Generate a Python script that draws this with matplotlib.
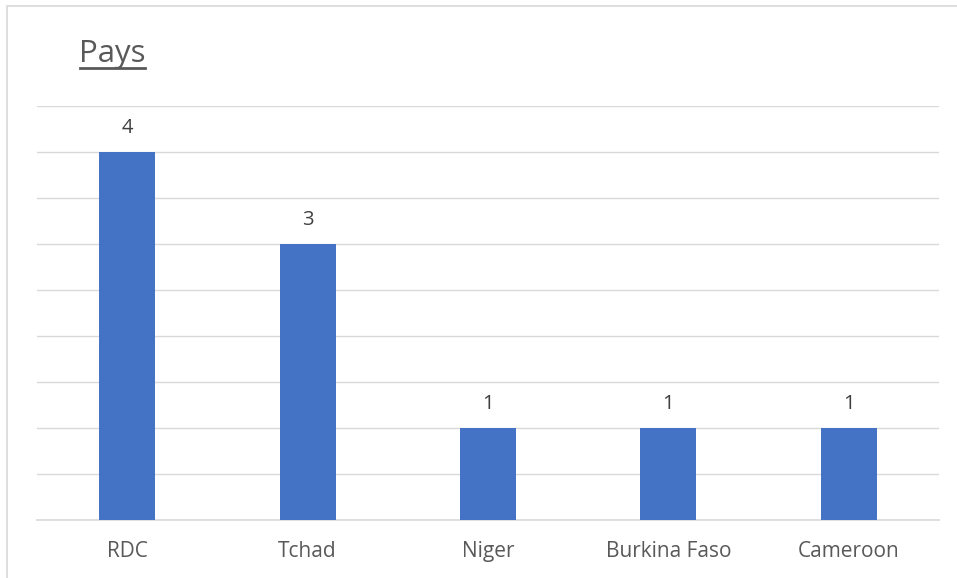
import matplotlib.pyplot as plt
from matplotlib.patches import Rectangle

# données
pays = ["RDC", "Tchad", "Niger", "Burkina Faso", "Cameroon"]
valeurs = [4, 3, 1, 1, 1]

W, H = 957, 578
fig = plt.figure(figsize=(W / 100, H / 100), dpi=100)
plt.rcParams["font.family"] = ["Open Sans", "DejaVu Sans"]

# cadre du graphique (gris clair, à gauche et en haut)
fig.patches.append(Rectangle((7 / W, -0.05), 1.1, 1 - 6 / H + 0.05,
                             transform=fig.transFigure, fill=False,
                             edgecolor="#d9d9d9", linewidth=1.2))

ax = fig.add_axes([37 / W, 1 - 520 / H, (939 - 37) / W, (520 - 106) / H])
x = range(len(pays))
bars = ax.bar(x, valeurs, width=0.31, color="#4472c4", zorder=3)

ax.set_ylim(0, 4.5)
ax.set_xlim(-0.5, len(pays) - 0.5)
ax.set_yticks([i * 0.5 for i in range(10)])
ax.yaxis.grid(True, color="#d9d9d9", linewidth=1)
ax.tick_params(axis="y", left=False, labelleft=False)
ax.tick_params(axis="x", length=0, pad=15, labelsize=15, labelcolor="#595959")
ax.set_xticks(list(x))
ax.set_xticklabels(pays)
for s in ["top", "right", "left"]:
    ax.spines[s].set_visible(False)
ax.spines["bottom"].set_color("#d9d9d9")
ax.spines["bottom"].set_linewidth(1.2)

# étiquettes de données
for i, v in enumerate(valeurs):
    ax.annotate(str(v), (i, v), xytext=(0, 17), textcoords="offset points",
                ha="center", va="center", fontsize=14.5, color="#404040")

fig.text(79 / W, 1 - 54 / H, "Pays", fontsize=22.5, color="#595959",
         va="center", ha="left")
# soulignement du titre
fig.add_artist(plt.Line2D([80 / W, 145 / W], [1 - 67.5 / H, 1 - 67.5 / H],
                          color="#595959", linewidth=2))

fig.savefig("out.png", dpi=100)
